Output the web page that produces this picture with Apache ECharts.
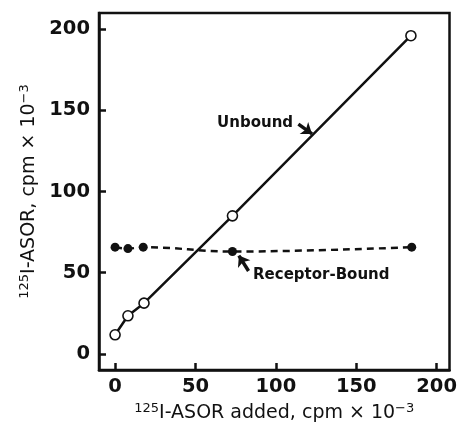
<!DOCTYPE html>
<html>
<head>
<meta charset="utf-8">
<script src="https://cdn.jsdelivr.net/npm/echarts@6/dist/echarts.min.js"></script>
<style>html,body{margin:0;padding:0;background:#fff;}#c{width:460px;height:429px;}</style>
</head>
<body>
<div id="c"></div>
<script>
// Data
const addedUnbound = [0, 8, 18, 73, 184];
const unboundValues = [11.7, 23.4, 31.2, 85.0, 196.0];
const addedBound = [0, 8, 17.5, 73, 184.5];
const boundValues = [65.7, 64.8, 65.7, 63.0, 65.7];
const tickValues = [0, 50, 100, 150, 200];
const xName = '{sup|125}{n|I-ASOR added, cpm × 10}{sup|−3}';
const yName = '{sup|125}{n|I-ASOR, cpm × 10}{sup|−3}';
const unboundLabel = 'Unbound';
const boundLabel = 'Receptor-Bound';
// annotation anchors (data units)
const unboundText = [111, 142.3];
const unboundArrow = [[114, 141.5], [122.5, 135.5]];
const boundText = [85.5, 48.7];
const boundArrow = [[83, 51], [77, 60.5]];

const black = '#111';
const nameRich = {
  n: {fontFamily: 'DejaVu Sans', fontSize: 19, color: black, lineHeight: 22},
  sup: {fontFamily: 'DejaVu Sans', fontSize: 13, color: black, lineHeight: 13, verticalAlign: 'top'}
};
const tickLabel = {fontFamily: 'DejaVu Sans', fontWeight: 'bold', fontSize: 19.5, color: black};

const chart = echarts.init(document.getElementById('c'), null, {renderer: 'canvas'});
chart.setOption({
  animation: false,
  backgroundColor: '#fff',
  grid: {left: 99, right: 8, top: 13, bottom: 59, show: true, borderColor: black, borderWidth: 2.5, backgroundColor: 'transparent'},
  xAxis: {
    type: 'value', min: -10, max: 208,
    name: xName, nameLocation: 'middle', nameGap: 22,
    nameTextStyle: {rich: nameRich},
    axisLine: {show: true, onZero: false, lineStyle: {color: black, width: 2.5}},
    axisTick: {show: true, inside: true, length: 7, customValues: tickValues, lineStyle: {color: black, width: 2.5}},
    axisLabel: Object.assign({margin: 7, customValues: tickValues}, tickLabel),
    splitLine: {show: false}
  },
  yAxis: {
    type: 'value', min: -10, max: 210,
    name: yName, nameLocation: 'middle', nameGap: 56,
    nameTextStyle: {rich: nameRich},
    axisLine: {show: true, onZero: false, lineStyle: {color: black, width: 2.5}},
    axisTick: {show: true, inside: true, length: 7, customValues: tickValues, lineStyle: {color: black, width: 2.5}},
    axisLabel: Object.assign({margin: 9, customValues: tickValues}, tickLabel),
    splitLine: {show: false}
  },
  series: [
    {
      name: 'Receptor-Bound', type: 'line', smooth: 0.4, z: 3,
      data: addedBound.map((x, i) => [x, boundValues[i]]),
      symbol: 'circle', symbolSize: 9,
      itemStyle: {color: black, borderColor: black, borderWidth: 0},
      lineStyle: {color: black, width: 2.5, type: [7, 5]},
      markPoint: {
        symbol: 'circle', symbolSize: 1, itemStyle: {color: 'rgba(0,0,0,0)'},
        label: {show: true, position: 'right', distance: 0, formatter: boundLabel,
          fontFamily: 'DejaVu Sans', fontWeight: 'bold', fontSize: 15, color: black},
        data: [{coord: boundText}]
      },
      markLine: {
        silent: true, symbol: ['none', 'arrow'], symbolSize: [11, 10],
        lineStyle: {color: black, width: 3.5, type: 'solid'},
        label: {show: false},
        data: [[{coord: boundArrow[0]}, {coord: boundArrow[1]}]]
      }
    },
    {
      name: 'Unbound', type: 'line', z: 4,
      data: addedUnbound.map((x, i) => [x, unboundValues[i]]),
      symbol: 'circle', symbolSize: 10,
      itemStyle: {color: '#fff', borderColor: black, borderWidth: 1.6},
      lineStyle: {color: black, width: 2.5},
      markPoint: {
        symbol: 'circle', symbolSize: 1, itemStyle: {color: 'rgba(0,0,0,0)'},
        label: {show: true, position: 'left', distance: 0, formatter: unboundLabel,
          fontFamily: 'DejaVu Sans', fontWeight: 'bold', fontSize: 15, color: black},
        data: [{coord: unboundText}]
      },
      markLine: {
        silent: true, symbol: ['none', 'arrow'], symbolSize: [11, 10],
        lineStyle: {color: black, width: 3.5, type: 'solid'},
        label: {show: false},
        data: [[{coord: unboundArrow[0]}, {coord: unboundArrow[1]}]]
      }
    }
  ]
});
</script>
</body>
</html>
